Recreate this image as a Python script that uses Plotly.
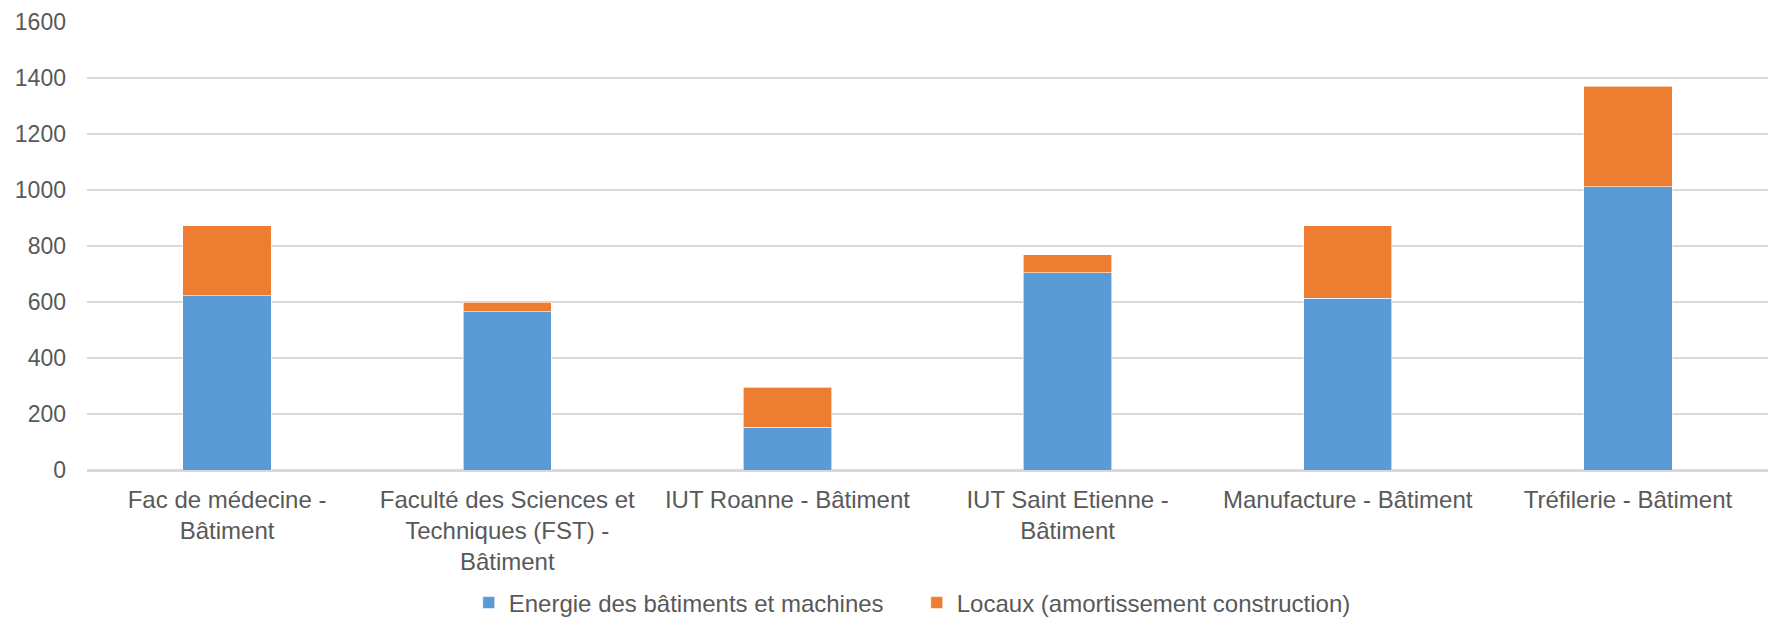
import plotly.graph_objects as go

categories = [
    "Fac de médecine -<br>Bâtiment",
    "Faculté des Sciences et<br>Techniques (FST) -<br>Bâtiment",
    "IUT Roanne - Bâtiment",
    "IUT Saint Etienne -<br>Bâtiment",
    "Manufacture - Bâtiment",
    "Tréfilerie - Bâtiment",
]
energie = [623, 565, 153, 704, 614, 1011]
locaux = [250, 35, 143, 64, 258, 360]
y_ticks = [0, 200, 400, 600, 800, 1000, 1200, 1400, 1600]

FONT = "Liberation Sans, Arial, sans-serif"
TXT = "#595959"

fig = go.Figure()
fig.add_trace(go.Bar(
    name="Energie des bâtiments et machines",
    x=categories, y=energie,
    marker=dict(color="#5B9BD5", line=dict(color="#FFFFFF", width=0.6)),
))
fig.add_trace(go.Bar(
    name="Locaux (amortissement construction)",
    x=categories, y=locaux,
    marker=dict(color="#ED7D31", line=dict(color="#FFFFFF", width=0.6)),
))

fig.update_layout(
    barmode="stack",
    bargap=0.685,
    width=1779, height=609,
    margin=dict(l=79, r=19, t=14, b=147, autoexpand=False),
    paper_bgcolor="white",
    plot_bgcolor="white",
    font=dict(family=FONT, size=24, color=TXT),
    showlegend=True,
    legend=dict(
        orientation="h",
        x=0.4936, xanchor="center",
        y=-0.2969, yanchor="middle",
        font=dict(family=FONT, size=24, color=TXT),
        itemwidth=30,
        entrywidth=403, entrywidthmode="pixels",
        traceorder="normal",
    ),
    xaxis=dict(
        type="category",
        automargin=False,
        showgrid=False,
        showline=True, linecolor="#D9D9D9", linewidth=1.5,
        ticks="", tickfont=dict(family=FONT, size=24, color=TXT),
        ticklabelstandoff=7,
    ),
    yaxis=dict(
        automargin=False,
        range=[0, 1600],
        tickvals=y_ticks,
        showgrid=True, gridcolor="#D9D9D9", gridwidth=1.5,
        zeroline=True, zerolinecolor="#D9D9D9", zerolinewidth=1.5,
        showline=False,
        ticks="", tickfont=dict(family=FONT, size=23, color=TXT),
        ticklabelstandoff=20,
        ticklabeloverflow="allow",
    ),
)

fig.write_html("out.html")
